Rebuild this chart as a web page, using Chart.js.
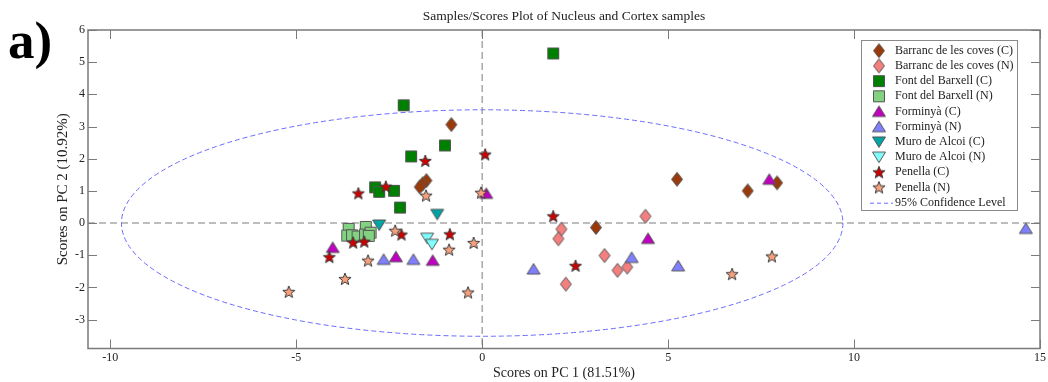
<!DOCTYPE html>
<html><head><meta charset="utf-8">
<script src="https://cdn.jsdelivr.net/npm/chart.js@4.4.1/dist/chart.umd.min.js"></script>
<style>html,body{margin:0;padding:0;background:#fff;}#wrap{width:1048px;height:382px;}</style>
</head><body><div id="wrap"><canvas id="c" width="1048" height="382"></canvas></div>
<script>
// ---- data (PC1, PC2 scores) ----
const seriesNames = ["Barranc de les coves (C)","Barranc de les coves (N)","Font del Barxell (C)","Font del Barxell (N)","Forminyà (C)","Forminyà (N)","Muro de Alcoi (C)","Muro de Alcoi (N)","Penella (C)","Penella (N)"];
const barrancC = [[-0.83,3.06],[-1.5,1.32],[-1.6,1.22],[-1.68,1.12],[3.06,-0.14],[5.24,1.36],[7.14,1.0],[7.93,1.25]];
const barrancN = [[4.39,0.21],[2.13,-0.19],[2.05,-0.49],[3.29,-1.01],[3.64,-1.47],[3.9,-1.37],[2.25,-1.9]];
const fontC = [[1.91,5.27],[-2.11,3.66],[-1.0,2.41],[-1.91,2.07],[-2.88,1.11],[-2.77,0.97],[-2.37,1.0],[-2.21,0.48]];
const fontN = [[-3.59,-0.18],[-3.63,-0.39],[-3.5,-0.38],[-3.35,-0.42],[-3.13,-0.12],[-3.15,-0.36],[-3.0,-0.3],[-3.05,-0.4]];
const forminyaC = [[0.11,0.92],[7.72,1.36],[4.46,-0.48],[-4.02,-0.76],[-2.32,-1.05],[-1.33,-1.16]];
const forminyaN = [[14.62,-0.17],[1.38,-1.43],[4.02,-1.07],[5.27,-1.33],[-2.65,-1.13],[-1.85,-1.13]];
const muroC = [[-1.21,0.27],[-2.77,-0.06]];
const muroN = [[-1.48,-0.47],[-1.35,-0.66]];
const penellaC = [[0.08,2.13],[-1.53,1.93],[-3.33,0.92],[-2.59,1.13],[1.91,0.21],[2.51,-1.33],[-2.17,-0.36],[-0.87,-0.35],[-3.47,-0.61],[-3.17,-0.58],[-4.11,-1.06]];
const penellaN = [[-0.03,0.94],[-1.51,0.85],[-2.34,-0.24],[-0.23,-0.62],[-0.89,-0.83],[-3.07,-1.17],[-3.69,-1.74],[-5.2,-2.14],[-0.38,-2.16],[7.79,-1.04],[6.72,-1.59]];
const allSeries = [barrancC,barrancN,fontC,fontN,forminyaC,forminyaN,muroC,muroN,penellaC,penellaN];
const xTicks = [-10,-5,0,5,10,15];
const yTicks = [6,5,4,3,2,1,0,-1,-2,-3];
const xRange = [-10.6,15];
const yRange = [-3.9,6];
const ellipseCenter = [0,0];
const ellipseRadii = [9.7,3.52];
const confLabel = "95% Confidence Level";

// ---- styles ----
const fills = ['#9a3a0a','#f47f7f','#008000','#82d282','#c000c0','#8080ff','#00a4a4','#80ffff','#cc0000','#f6a07c'];
const shapes = ['diamond','diamond','square','square','triUp','triUp','triDown','triDown','star','star'];
const SERIF = "'Liberation Serif','DejaVu Serif',serif";

function makeMarker(shape, fill){
  const c = document.createElement('canvas');
  const dims = {diamond:[14,17],square:[14,14],triUp:[16,14],triDown:[16,14],star:[16,16]}[shape];
  c.width = dims[0]; c.height = dims[1];
  const g = c.getContext('2d');
  g.beginPath();
  if(shape==='diamond'){ g.moveTo(7,1.5);g.lineTo(12.5,8.5);g.lineTo(7,15.5);g.lineTo(1.5,8.5);g.closePath(); }
  else if(shape==='square'){ g.rect(1.5,1.5,11,11); }
  else if(shape==='triUp'){ g.moveTo(8,1.5);g.lineTo(14.5,12);g.lineTo(1.5,12);g.closePath(); }
  else if(shape==='triDown'){ g.moveTo(1.5,2);g.lineTo(14.5,2);g.lineTo(8,12.5);g.closePath(); }
  else { const cx=8,cy=8.4,R=6.4,r=2.7; for(let i=0;i<10;i++){const a=-Math.PI/2+i*Math.PI/5;const rr=i%2?r:R;const px=cx+rr*Math.cos(a),py=cy+rr*Math.sin(a);i?g.lineTo(px,py):g.moveTo(px,py);} g.closePath(); }
  g.fillStyle = fill; g.fill();
  g.lineWidth = 1; g.strokeStyle = shape==='star' ? '#3a3a3a' : '#555555'; g.stroke();
  return c;
}
const markers = shapes.map((s,i)=>makeMarker(s,fills[i]));

const datasets = allSeries.map((arr,i)=>({
  label: seriesNames[i],
  data: arr.map(p=>({x:p[0],y:p[1]})),
  pointStyle: markers[i],
  pointRadius: 5,
  order: 20 - i
}));

const decor = {
  id:'decor',
  beforeDatasetsDraw(chart){
    const {ctx, chartArea:a, scales:{x,y}} = chart;
    ctx.save();
    ctx.beginPath(); ctx.rect(a.left,a.top,a.right-a.left,a.bottom-a.top); ctx.clip();
    ctx.strokeStyle='#a8a8a8'; ctx.lineWidth=1.5; ctx.setLineDash([7,4]);
    const x0=x.getPixelForValue(0), y0=y.getPixelForValue(0);
    ctx.beginPath(); ctx.moveTo(x0,a.top); ctx.lineTo(x0,a.bottom); ctx.stroke();
    ctx.beginPath(); ctx.moveTo(a.left,y0); ctx.lineTo(a.right,y0); ctx.stroke();
    const cx=x.getPixelForValue(ellipseCenter[0]), cy=y.getPixelForValue(ellipseCenter[1]);
    const rx=x.getPixelForValue(ellipseCenter[0]+ellipseRadii[0])-cx;
    const ry=cy-y.getPixelForValue(ellipseCenter[1]+ellipseRadii[1]);
    ctx.strokeStyle='#6a6aff'; ctx.lineWidth=1; ctx.setLineDash([5,3]);
    ctx.beginPath(); ctx.ellipse(cx,cy,rx,ry,0,0,Math.PI*2); ctx.stroke();
    ctx.restore();
  },
  afterDatasetsDraw(chart){
    const {ctx, chartArea:a, scales:{x,y}} = chart;
    ctx.save();
    ctx.strokeStyle='#7a7a7a'; ctx.lineWidth=1.5; ctx.setLineDash([]);
    ctx.strokeRect(a.left,a.top,a.right-a.left,a.bottom-a.top);
    ctx.lineWidth=1; ctx.strokeStyle='#7a7a7a';
    const TL=9;
    xTicks.forEach(v=>{const px=Math.round(x.getPixelForValue(v))+0.5;
      ctx.beginPath();ctx.moveTo(px,a.bottom);ctx.lineTo(px,a.bottom-TL);ctx.moveTo(px,a.top);ctx.lineTo(px,a.top+TL);ctx.stroke();});
    yTicks.forEach(v=>{const py=Math.round(y.getPixelForValue(v))+0.5;
      ctx.beginPath();ctx.moveTo(a.left,py);ctx.lineTo(a.left+TL,py);ctx.moveTo(a.right,py);ctx.lineTo(a.right-TL,py);ctx.stroke();});
    const L={x:861.5,y:40.5,w:156,h:170,row0:50.7,step:15.2,mx:879,tx:895};
    ctx.fillStyle='#ffffff'; ctx.fillRect(L.x,L.y,L.w,L.h);
    ctx.strokeStyle='#8a8a8a'; ctx.lineWidth=1; ctx.strokeRect(L.x,L.y,L.w,L.h);
    ctx.font='12px '+SERIF; ctx.textBaseline='middle'; ctx.textAlign='left'; ctx.fillStyle='#222';
    chart.data.datasets.forEach((ds,i)=>{
      const ry=L.row0+i*L.step; const m=ds.pointStyle;
      ctx.drawImage(m,L.mx-m.width/2,ry-m.height/2);
      ctx.fillText(ds.label,L.tx,ry);
    });
    const ly=L.row0+10*L.step;
    ctx.strokeStyle='#6a6aff'; ctx.setLineDash([4,3]); ctx.beginPath(); ctx.moveTo(870,ly+0.5); ctx.lineTo(893,ly+0.5); ctx.stroke();
    ctx.setLineDash([]); ctx.fillText(confLabel,L.tx,ly);
    ctx.restore();
  },
  afterDraw(chart){
    const {ctx, chartArea:a} = chart;
    ctx.save();
    ctx.fillStyle='#222'; ctx.font='13.5px '+SERIF; ctx.textAlign='center'; ctx.textBaseline='middle';
    ctx.fillText('Samples/Scores Plot of Nucleus and Cortex samples',(a.left+a.right)/2,16);
    ctx.fillStyle='#000'; ctx.font='bold 53px '+SERIF; ctx.textAlign='left'; ctx.textBaseline='alphabetic';
    ctx.fillText('a)',8,58);
    ctx.restore();
  }
};

new Chart(document.getElementById('c'),{
  type:'scatter',
  data:{datasets},
  plugins:[decor],
  options:{
    responsive:false, animation:false, events:[],
    layout:{padding:{top:30,right:6,left:0,bottom:0}},
    plugins:{legend:{display:false},tooltip:{enabled:false},title:{display:false}},
    scales:{
      x:{type:'linear',min:xRange[0],max:xRange[1],
        afterBuildTicks:s=>{s.ticks=xTicks.map(v=>({value:v}));},
        afterFit:s=>{s.height=33.5;},
        grid:{display:false,drawTicks:false},border:{display:false},
        ticks:{padding:2,color:'#222',font:{family:SERIF,size:12},maxRotation:0,autoSkip:false},
        title:{display:true,text:'Scores on PC 1 (81.51%)',color:'#222',font:{family:SERIF,size:14},padding:{top:0,bottom:0.6}}},
      y:{type:'linear',min:yRange[0],max:yRange[1],
        afterBuildTicks:s=>{s.ticks=yTicks.map(v=>({value:v}));},
        afterFit:s=>{s.width=88;},
        grid:{display:false,drawTicks:false},border:{display:false},
        ticks:{padding:3,color:'#222',font:{family:SERIF,size:12},autoSkip:false},
        title:{display:true,text:'Scores on PC 2 (10.92%)',color:'#222',font:{family:SERIF,size:15},padding:{top:54,bottom:0}}}
    }
  }
});
</script></body></html>
